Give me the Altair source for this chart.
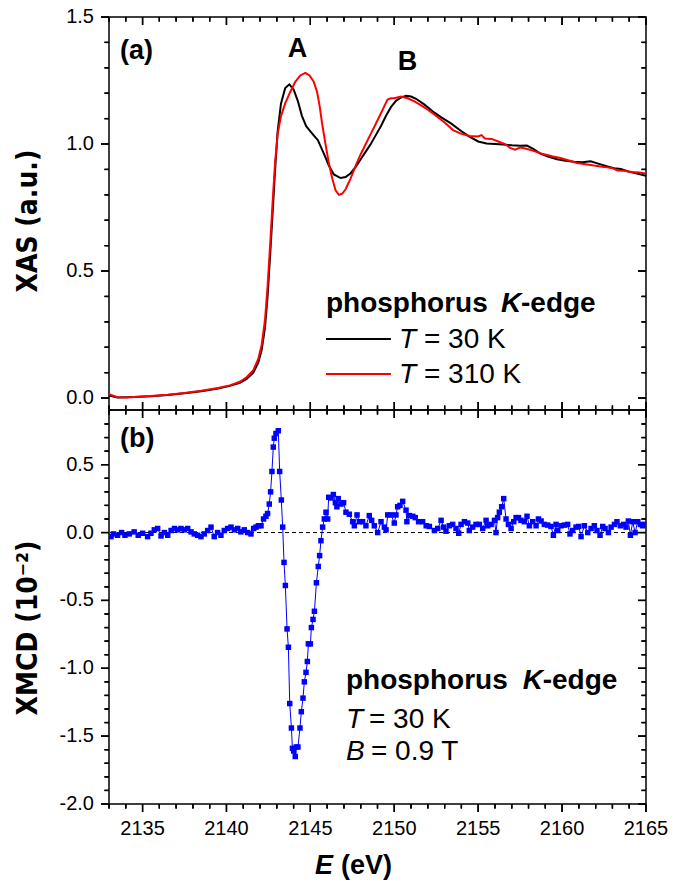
import altair as alt
import pandas as pd

# ---------------- data ----------------
xas_E_30K = [2133.0, 2133.5, 2134.0, 2134.5, 2135.5, 2136.5, 2137.5, 2138.5, 2139.5, 2140.2,
             2140.8, 2141.2, 2141.6, 2141.9, 2142.1, 2142.3, 2142.45, 2142.6, 2142.75, 2142.9,
             2143.05, 2143.25, 2143.5, 2143.75, 2144.0, 2144.25, 2144.5, 2144.75, 2145.0, 2145.25,
             2145.45, 2145.65, 2145.85, 2146.1, 2146.4, 2146.8, 2147.1, 2147.4, 2147.7, 2148.0,
             2148.3, 2148.6, 2148.9, 2149.2, 2149.5, 2149.8, 2150.1, 2150.4, 2150.7, 2151.0,
             2151.3, 2151.8, 2152.3, 2152.8, 2153.4, 2153.9, 2154.4, 2155.0, 2155.5, 2156.0,
             2156.5, 2157.0, 2157.5, 2157.9, 2158.3, 2158.7, 2159.2, 2159.7, 2160.2, 2160.7,
             2161.2, 2161.7, 2162.2, 2162.7, 2163.1, 2163.5, 2163.9, 2164.4, 2165.0]
xas_v_30K = [0.010, 0.002, 0.003, 0.004, 0.007, 0.012, 0.019, 0.027, 0.038, 0.048,
             0.060, 0.075, 0.100, 0.140, 0.190, 0.280, 0.400, 0.560, 0.730, 0.900,
             1.050, 1.160, 1.220, 1.235, 1.215, 1.170, 1.110, 1.070, 1.050, 1.030,
             1.015, 0.985, 0.955, 0.915, 0.880, 0.866, 0.870, 0.885, 0.910, 0.940,
             0.970, 1.000, 1.035, 1.070, 1.110, 1.145, 1.170, 1.183, 1.190, 1.187,
             1.178, 1.155, 1.128, 1.105, 1.080, 1.055, 1.032, 1.010, 1.002, 1.000,
             0.998, 0.995, 0.993, 0.994, 0.980, 0.962, 0.950, 0.940, 0.934, 0.930,
             0.928, 0.932, 0.922, 0.912, 0.905, 0.902, 0.893, 0.885, 0.875]

xas_E_310K = [2133.0, 2133.5, 2134.0, 2134.5, 2135.5, 2136.5, 2137.5, 2138.5, 2139.5, 2140.2,
              2140.8, 2141.2, 2141.6, 2141.9, 2142.1, 2142.3, 2142.45, 2142.6, 2142.75, 2142.9,
              2143.05, 2143.25, 2143.5, 2143.8, 2144.1, 2144.4, 2144.7, 2144.95, 2145.2, 2145.4,
              2145.55, 2145.7, 2145.9, 2146.1, 2146.3, 2146.5, 2146.7, 2146.9, 2147.1, 2147.4,
              2147.7, 2148.0, 2148.3, 2148.6, 2148.9, 2149.2, 2149.45, 2149.6, 2149.8, 2150.0,
              2150.4, 2150.8, 2151.2, 2151.6, 2152.0, 2152.5, 2153.0, 2153.5, 2154.0, 2154.5,
              2155.0, 2155.2, 2155.4, 2155.8, 2156.2, 2156.6, 2156.9, 2157.2, 2157.5, 2157.8,
              2158.2, 2158.8, 2159.4, 2159.9, 2160.4, 2160.9, 2161.4, 2161.9, 2162.5, 2163.0,
              2163.3, 2163.7, 2164.1, 2164.6, 2165.0]
xas_v_310K = [0.015, 0.003, 0.002, 0.004, 0.008, 0.013, 0.020, 0.029, 0.040, 0.050,
              0.064, 0.082, 0.110, 0.155, 0.210, 0.310, 0.440, 0.600, 0.770, 0.930,
              1.040, 1.110, 1.160, 1.205, 1.245, 1.270, 1.280, 1.270, 1.245, 1.205,
              1.150, 1.080, 1.000, 0.925, 0.865, 0.818, 0.800, 0.805, 0.822, 0.865,
              0.915, 0.960, 1.000, 1.040, 1.080, 1.120, 1.155, 1.175, 1.180, 1.180,
              1.187, 1.180, 1.168, 1.152, 1.135, 1.110, 1.085, 1.055, 1.040, 1.032,
              1.030, 1.035, 1.022, 1.020, 1.010, 1.000, 0.985, 0.978, 0.986, 0.982,
              0.975, 0.962, 0.952, 0.945, 0.935, 0.925, 0.920, 0.915, 0.910, 0.905,
              0.896, 0.895, 0.890, 0.888, 0.884]

xmcd_E = [2133.12, 2133.27, 2133.51, 2133.75, 2133.95, 2134.21, 2134.50, 2134.74, 2135.00, 2135.30,
          2135.50, 2135.70, 2135.90, 2136.10, 2136.30, 2136.50, 2136.70, 2136.90, 2137.09, 2137.29,
          2137.49, 2137.69, 2137.89, 2138.08, 2138.28, 2138.48, 2138.68, 2138.88, 2139.08, 2139.27,
          2139.47, 2139.67, 2139.87, 2140.07, 2140.27, 2140.47, 2140.67, 2140.86, 2141.06, 2141.26,
          2141.46, 2141.62, 2141.76, 2141.90, 2142.06, 2142.21, 2142.35, 2142.45, 2142.55, 2142.63,
          2142.71, 2142.79, 2142.85, 2142.95, 2143.09, 2143.17, 2143.27, 2143.35, 2143.43, 2143.51,
          2143.61, 2143.69, 2143.77, 2143.87, 2143.93, 2144.01, 2144.10, 2144.16, 2144.26, 2144.38,
          2144.46, 2144.56, 2144.64, 2144.74, 2144.82, 2144.88, 2145.00, 2145.06, 2145.16, 2145.24,
          2145.36, 2145.47, 2145.55, 2145.63, 2145.73, 2145.83, 2145.93, 2146.03, 2146.09, 2146.23,
          2146.37, 2146.49, 2146.58, 2146.66, 2146.82, 2146.98, 2147.12, 2147.32, 2147.52, 2147.62,
          2147.78, 2147.92, 2148.11, 2148.31, 2148.51, 2148.65, 2148.81, 2149.01, 2149.21, 2149.41,
          2149.51, 2149.61, 2149.81, 2150.00, 2150.10, 2150.20, 2150.34, 2150.50, 2150.70, 2150.75,
          2150.90, 2151.10, 2151.25, 2151.45, 2151.69, 2151.90, 2152.09, 2152.39, 2152.59, 2152.79,
          2152.94, 2153.08, 2153.28, 2153.48, 2153.68, 2153.84, 2153.98, 2154.18, 2154.38, 2154.47,
          2154.67, 2154.87, 2155.07, 2155.27, 2155.47, 2155.57, 2155.77, 2155.97, 2156.06, 2156.16,
          2156.26, 2156.40, 2156.52, 2156.66, 2156.80, 2156.96, 2157.12, 2157.26, 2157.40, 2157.55,
          2157.75, 2157.91, 2158.05, 2158.25, 2158.45, 2158.59, 2158.75, 2158.94, 2159.14, 2159.34,
          2159.48, 2159.64, 2159.74, 2159.94, 2160.14, 2160.33, 2160.47, 2160.63, 2160.83, 2160.99,
          2161.13, 2161.33, 2161.53, 2161.73, 2161.92, 2162.08, 2162.26, 2162.42, 2162.56, 2162.76,
          2162.92, 2163.12, 2163.27, 2163.47, 2163.67, 2163.81, 2163.95, 2164.07, 2164.21, 2164.35,
          2164.51, 2164.67, 2164.80, 2164.94]
xmcd_v = [-0.03, -0.01, -0.02, 0.00, -0.02, -0.01, 0.005, -0.02, -0.005, -0.03,
          -0.005, 0.02, 0.03, -0.025, 0.00, -0.02, 0.015, 0.03, 0.02, 0.03,
          0.02, 0.03, 0.005, -0.01, -0.02, -0.03, -0.01, 0.015, 0.04, -0.03,
          0.00, -0.02, 0.015, 0.03, 0.04, 0.02, 0.03, 0.005, 0.02, 0.00,
          -0.01, 0.03, 0.04, 0.05, 0.05, 0.10, 0.12, 0.14, 0.21, 0.30,
          0.45, 0.63, 0.695, 0.73, 0.75, 0.45, 0.24, 0.04, -0.22, -0.39,
          -0.71, -0.845, -1.26, -1.44, -1.59, -1.61, -1.65, -1.58, -1.58, -1.44,
          -1.32, -1.22, -1.10, -1.03, -0.95, -0.82, -0.82, -0.70, -0.64, -0.58,
          -0.37, -0.25, -0.17, -0.06, 0.04, 0.10, 0.15, 0.10, 0.26, 0.255,
          0.28, 0.22, 0.19, 0.25, 0.21, 0.22, 0.15, 0.135, 0.08, 0.05,
          0.13, 0.08, 0.08, 0.05, 0.125, 0.09, 0.05, 0.00, 0.08, 0.04,
          0.02, 0.13, 0.13, 0.07, 0.13, 0.19, 0.20, 0.23, 0.165, 0.08,
          0.125, 0.12, 0.11, 0.08, 0.08, 0.05, 0.045, 0.015, 0.03, 0.09,
          0.04, 0.01, 0.05, 0.06, 0.03, -0.005, 0.06, 0.08, 0.07, 0.015,
          0.04, 0.06, 0.06, 0.03, 0.09, 0.05, 0.06, 0.09, 0.00, 0.11,
          0.15, 0.19, 0.25, 0.10, 0.06, 0.03, 0.08, 0.11, 0.11, 0.09,
          0.08, 0.12, 0.05, 0.08, 0.05, 0.10, 0.085, 0.06, 0.055, 0.045,
          -0.02, 0.06, 0.015, 0.05, 0.055, 0.06, -0.01, 0.015, 0.04, 0.045,
          -0.03, 0.05, 0.00, 0.03, 0.05, 0.015, -0.02, 0.045, 0.03, 0.00,
          0.04, 0.06, 0.08, 0.05, 0.06, 0.04, 0.085, -0.02, 0.08, 0.00,
          0.08, 0.06, 0.05, 0.06]

# tick values and tick labels
x_major = [2135, 2140, 2145, 2150, 2155, 2160, 2165]
x_major_labels = ["2135", "2140", "2145", "2150", "2155", "2160", "2165"]
x_minor = [2133, 2134, 2136, 2137, 2138, 2139, 2141, 2142, 2143, 2144, 2146, 2147, 2148,
           2149, 2151, 2152, 2153, 2154, 2156, 2157, 2158, 2159, 2161, 2162, 2163, 2164]
xas_major = [0.0, 0.5, 1.0, 1.5]
xas_major_labels = ["0.0", "0.5", "1.0", "1.5"]
xas_minor = [0.1, 0.2, 0.3, 0.4, 0.6, 0.7, 0.8, 0.9, 1.1, 1.2, 1.3, 1.4]
xmcd_major = [-2.0, -1.5, -1.0, -0.5, 0.0, 0.5]
xmcd_major_labels = ["-2.0", "-1.5", "-1.0", "-0.5", "0.0", "0.5"]
xmcd_minor = [-1.9, -1.8, -1.7, -1.6, -1.4, -1.3, -1.2, -1.1, -0.9, -0.8, -0.7, -0.6,
              -0.4, -0.3, -0.2, -0.1, 0.1, 0.2, 0.3, 0.4, 0.6, 0.7, 0.8]

X_DOMAIN = [2133, 2165]
XAS_DOMAIN = [-0.047, 1.5]
XMCD_DOMAIN = [-2.0, 0.903]

# annotation texts
top_labels = {"panel": "(a)", "peakA": "A", "peakB": "B"}
legend_top = ["phosphorus", "K", "-edge", "T", "= 30 K", "= 310 K"]
legend_bottom = ["phosphorus", "K", "-edge", "T", "= 30 K", "B", "= 0.9 T"]
titles = {"xas": "XAS (a.u.)", "xmcd": "XMCD (10\u207b\u00b2)", "E": "E", "unit": "(eV)"}

FONT = "Liberation Sans"
TITLE_FONT = "Liberation Sans Narrow, DejaVu Sans Condensed, Liberation Sans"
W, H1, H2 = 537, 393, 394
MAJ, MIN = 8, 4.5
TW = 1.3
LEG = 28

xs = alt.Scale(domain=X_DOMAIN, nice=False, zero=False)
y1s = alt.Scale(domain=XAS_DOMAIN, nice=False, zero=False)
y2s = alt.Scale(domain=XMCD_DOMAIN, nice=False, zero=False)

DX = (X_DOMAIN[1] - X_DOMAIN[0]) / W   # data units per pixel along x


def tick_segments(ydom, H, ymaj, ymin, top_outward):
    """Frame tick segments (xa, xb, ya, yb) in data units, built from the tick arrays."""
    dy = (ydom[1] - ydom[0]) / H
    x0, x1 = X_DOMAIN
    y0, y1 = ydom
    segs = []
    for vals, L in ((ymaj, MAJ), (ymin, MIN)):
        for v in vals:
            segs.append((x0 - L * DX, x0, v, v))      # left, outward
            segs.append((x1 - L * DX, x1, v, v))      # right, inward
    for vals, L in ((x_major, MAJ), (x_minor, MIN)):
        for e in vals:
            segs.append((e, e, y0 - L * dy, y0))      # bottom, outward
            if top_outward:
                segs.append((e, e, y1, y1 + L * dy))
            else:
                segs.append((e, e, y1 - L * dy, y1))
    return segs, dy


def tick_layers(ydom, H, ymaj, ymin, yscale, top_outward):
    segs, dy = tick_segments(ydom, H, ymaj, ymin, top_outward)
    hx, hy = TW / 2 * DX, TW / 2 * dy
    rule_df = pd.DataFrame(segs, columns=["xa", "xb", "ya", "yb"])
    rect_rows, line_rows = [], []
    for i, (xa, xb, ya, yb) in enumerate(segs):
        if xa == xb:
            rect_rows.append((xa - hx, xa + hx, ya, yb))
        else:
            rect_rows.append((xa, xb, ya - hy, ya + hy))
        line_rows.append((i, 0, xa, ya))
        line_rows.append((i, 1, xb, yb))
    rect_df = pd.DataFrame(rect_rows, columns=["xa", "xb", "ya", "yb"])
    line_df = pd.DataFrame(line_rows, columns=["id", "k", "x", "y"])

    rules = alt.Chart(rule_df).mark_rule(color="black", strokeWidth=TW, opacity=1).encode(
        x=alt.X("xa:Q", scale=xs, axis=None), x2="xb:Q",
        y=alt.Y("ya:Q", scale=yscale, axis=None), y2="yb:Q")
    rects = alt.Chart(rect_df).mark_rect(color="black", opacity=1).encode(
        x=alt.X("xa:Q", scale=xs, axis=None), x2="xb:Q",
        y=alt.Y("ya:Q", scale=yscale, axis=None), y2="yb:Q")
    lines = alt.Chart(line_df).mark_line(color="black", strokeWidth=TW).encode(
        x=alt.X("x:Q", scale=xs, axis=None), y=alt.Y("y:Q", scale=yscale, axis=None),
        detail="id:N", order="k:Q")
    return [rules, rects, lines]


def ylabels(values, labels, scale):
    df = pd.DataFrame({"v": values, "t": labels})
    return alt.Chart(df).mark_text(
        font=FONT, fontSize=20, align="right", baseline="middle", color="black"
    ).encode(y=alt.Y("v:Q", scale=scale, axis=None), x=alt.value(-15), text="t:N")


def xlabels(values, labels, ypix):
    df = pd.DataFrame({"E": values, "t": labels})
    return alt.Chart(df).mark_text(
        font=FONT, fontSize=20, align="center", baseline="alphabetic", color="black"
    ).encode(x=alt.X("E:Q", scale=xs, axis=None), y=alt.value(ypix), text="t:N")


def ytitle(text, ypix):
    df = pd.DataFrame({"t": [text]})
    return alt.Chart(df).mark_text(
        font=TITLE_FONT, fontSize=28, fontWeight="bold", angle=270, align="center",
        baseline="middle", color="black"
    ).encode(x=alt.value(-80), y=alt.value(ypix), text="t:N")


def text_layer(rows, yscale, size=LEG, weight="normal", style="normal", align="left"):
    df = pd.DataFrame(rows, columns=["E", "v", "t"])
    return alt.Chart(df).mark_text(
        font=FONT, fontSize=size, fontWeight=weight, fontStyle=style, align=align,
        baseline="alphabetic", color="black"
    ).encode(
        x=alt.X("E:Q", scale=xs, axis=None),
        y=alt.Y("v:Q", scale=yscale, axis=None),
        text="t:N",
    )


# ---------------- top panel (XAS) ----------------
df30 = pd.DataFrame({"E": xas_E_30K, "v": xas_v_30K})
df310 = pd.DataFrame({"E": xas_E_310K, "v": xas_v_310K})

black = alt.Chart(df30).mark_line(color="black", strokeWidth=2, clip=True).encode(
    x=alt.X("E:Q", scale=xs, axis=None), y=alt.Y("v:Q", scale=y1s, axis=None))
red = alt.Chart(df310).mark_line(color="#ff0000", strokeWidth=2, clip=True).encode(
    x=alt.X("E:Q", scale=xs, axis=None), y=alt.Y("v:Q", scale=y1s, axis=None))

leg_lines = pd.DataFrame({"E": [2145.93, 2145.93], "E2": [2149.80, 2149.80],
                          "v": [0.2325, 0.0947], "s": ["30K", "310K"]})
leg_black = alt.Chart(leg_lines[leg_lines.s == "30K"]).mark_rule(color="black", strokeWidth=2).encode(
    x=alt.X("E:Q", scale=xs, axis=None), x2="E2:Q", y=alt.Y("v:Q", scale=y1s, axis=None))
leg_red = alt.Chart(leg_lines[leg_lines.s == "310K"]).mark_rule(color="#ff0000", strokeWidth=2).encode(
    x=alt.X("E:Q", scale=xs, axis=None), x2="E2:Q", y=alt.Y("v:Q", scale=y1s, axis=None))

t_panel_a = text_layer([[2133.66, 1.334, top_labels["panel"]]], y1s, size=27, weight="bold")
t_peaks = text_layer([[2144.23, 1.342, top_labels["peakA"]], [2150.79, 1.291, top_labels["peakB"]]],
                     y1s, size=27, weight="bold", align="center")
t_leg_bold = text_layer([[2145.93, 0.339, legend_top[0]], [2157.55, 0.339, legend_top[2]]],
                        y1s, weight="bold")
t_leg_K = text_layer([[2156.36, 0.339, legend_top[1]]], y1s, weight="bold", style="italic")
t_leg_T = text_layer([[2150.28, 0.197, legend_top[3]], [2150.28, 0.059, legend_top[3]]],
                     y1s, style="italic")
t_leg_vals = text_layer([[2151.77, 0.197, legend_top[4]], [2151.77, 0.059, legend_top[5]]], y1s)

top = alt.layer(
    black, red, leg_black, leg_red,
    ylabels(xas_major, xas_major_labels, y1s), ytitle(titles["xas"], 204),
    t_panel_a, t_peaks, t_leg_bold, t_leg_K, t_leg_T, t_leg_vals,
    *tick_layers(XAS_DOMAIN, H1, xas_major, xas_minor, y1s, False),
).properties(width=W, height=H1)

# ---------------- bottom panel (XMCD) ----------------
dfx = pd.DataFrame({"E": xmcd_E, "v": xmcd_v})

zero_line = alt.Chart(pd.DataFrame({"v": [0.0]})).mark_rule(
    color="black", strokeDash=[4, 3], strokeWidth=1).encode(
    y=alt.Y("v:Q", scale=y2s, axis=None))

xmcd = alt.Chart(dfx).mark_line(
    color="#0000ff", strokeWidth=1, clip=True,
    point=alt.OverlayMarkDef(shape="square", size=30, filled=True, color="#0000ff", opacity=1),
).encode(x=alt.X("E:Q", scale=xs, axis=None), y=alt.Y("v:Q", scale=y2s, axis=None))

b_panel = text_layer([[2133.66, 0.631, "(b)"]], y2s, size=27, weight="bold")
b_bold = text_layer([[2147.12, -1.152, legend_bottom[0]], [2158.84, -1.152, legend_bottom[2]]],
                    y2s, weight="bold")
b_K = text_layer([[2157.65, -1.152, legend_bottom[1]]], y2s, weight="bold", style="italic")
b_ital = text_layer([[2147.12, -1.440, legend_bottom[3]], [2147.12, -1.676, legend_bottom[5]]],
                    y2s, style="italic")
b_vals = text_layer([[2148.49, -1.440, legend_bottom[4]], [2148.61, -1.676, legend_bottom[6]]], y2s)

xtitle_df = pd.DataFrame({"E": [2145.28, 2146.83], "t": [titles["E"], titles["unit"]],
                          "st": ["italic", "normal"]})
xt_E = alt.Chart(xtitle_df[xtitle_df.st == "italic"]).mark_text(
    font=FONT, fontSize=27, fontWeight="bold", fontStyle="italic", align="left",
    baseline="alphabetic", color="black").encode(
    x=alt.X("E:Q", scale=xs, axis=None), y=alt.value(464), text="t:N")
xt_unit = alt.Chart(xtitle_df[xtitle_df.st == "normal"]).mark_text(
    font=FONT, fontSize=27, fontWeight="bold", align="left",
    baseline="alphabetic", color="black").encode(
    x=alt.X("E:Q", scale=xs, axis=None), y=alt.value(464), text="t:N")

bottom = alt.layer(
    zero_line, xmcd,
    ylabels(xmcd_major, xmcd_major_labels, y2s), xlabels(x_major, x_major_labels, H2 + 31),
    ytitle(titles["xmcd"], 218),
    b_panel, b_bold, b_K, b_ital, b_vals, xt_E, xt_unit,
    *tick_layers(XMCD_DOMAIN, H2, xmcd_major, xmcd_minor, y2s, True),
).properties(width=W, height=H2)

chart = alt.vconcat(top, bottom, spacing=0, bounds="flush").properties(
    padding={"left": 14, "top": 6, "right": 5, "bottom": 0},
    background="white",
).configure_view(stroke="black", strokeWidth=1.5)

chart.save("out.html", embed_options={"renderer": "svg", "actions": False})
